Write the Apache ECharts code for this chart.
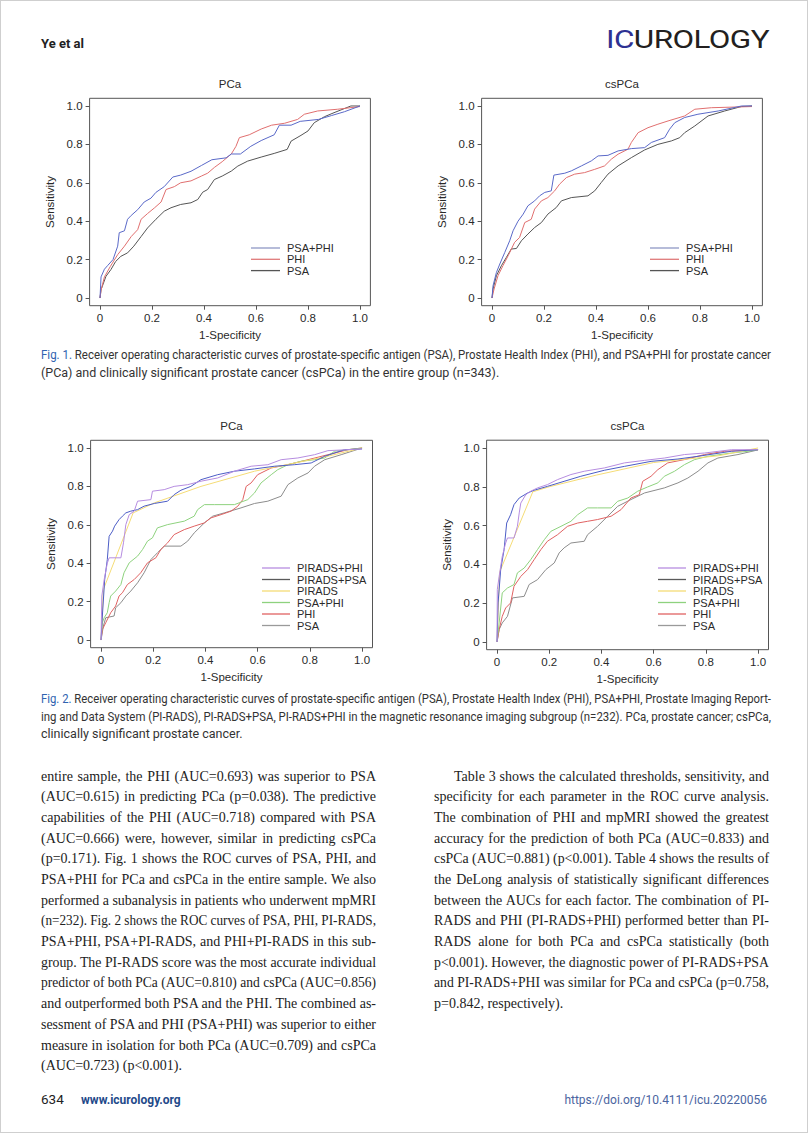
<!DOCTYPE html>
<html>
<head>
<meta charset="utf-8">
<script src="https://cdn.jsdelivr.net/npm/echarts@6/dist/echarts.min.js"></script>
<style>
  html,body{margin:0;padding:0;background:#fff;}
  #page{position:relative;width:808px;height:1133px;box-sizing:border-box;border:1px solid #cfcfcf;overflow:hidden;background:#fff;}
  #chart{position:absolute;left:0;top:0;width:808px;height:700px;}
  .abs{position:absolute;white-space:nowrap;}
  .hdr{font-family:'Liberation Sans Narrow','Roboto','Liberation Sans',sans-serif;font-weight:bold;font-size:13px;color:#222;}
  .logo{font-family:'Roboto','Lato',sans-serif;font-weight:400;font-size:26.5px;letter-spacing:-0.5px;line-height:28px;transform-origin:left center;}
  .cap{position:absolute;left:40px;width:730px;font-family:'Liberation Sans Narrow','Roboto','Liberation Sans',sans-serif;font-size:12.5px;color:#333;}
  .cap .ln{height:17.5px;line-height:17.5px;}
  .figlab{color:#2f63b0;}
  .col{position:absolute;width:335px;font-family:'Liberation Serif','DejaVu Serif',serif;font-size:14px;color:#222;}
  .col .ln{height:20.7px;line-height:20.7px;}
  .ln{white-space:nowrap;overflow:visible;}
  .ln span{white-space:nowrap;}
  .ln.jj{text-align:justify;text-align-last:justify;white-space:normal;}
  .foot{font-family:'Liberation Sans Narrow','Roboto','Liberation Sans',sans-serif;font-size:12px;}
</style>
</head>
<body>
<div id="page">
  <div class="abs hdr" style="left:40px;top:35px;">Ye et al</div>
  <div id="logo" class="abs logo" style="left:605px;top:24px;"><span style="color:#2e3192">IC</span><span style="color:#231f20">UROLOGY</span></div>

  <div id="chart"></div>

  <div class="cap" style="top:345px;">
    <div class="ln j" data-w="730"><span><span class="figlab">Fig. 1.</span> Receiver operating characteristic curves of prostate-specific antigen (PSA), Prostate Health Index (PHI), and PSA+PHI for prostate cancer</span></div>
    <div class="ln" data-w="0"><span>(PCa) and clinically significant prostate cancer (csPCa) in the entire group (n=343).</span></div>
  </div>

  <div class="cap" style="top:689px;">
    <div class="ln j" data-w="730"><span><span class="figlab">Fig. 2.</span> Receiver operating characteristic curves of prostate-specific antigen (PSA), Prostate Health Index (PHI), PSA+PHI, Prostate Imaging Report-</span></div>
    <div class="ln j" data-w="730"><span>ing and Data System (PI-RADS), PI-RADS+PSA, PI-RADS+PHI in the magnetic resonance imaging subgroup (n=232). PCa, prostate cancer; csPCa,</span></div>
    <div class="ln" data-w="0"><span>clinically significant prostate cancer.</span></div>
  </div>

  <div class="col" style="left:40px;top:765.6px;">
    <div class="ln j" data-w="335"><span>entire sample, the PHI (AUC=0.693) was superior to PSA</span></div>
    <div class="ln j" data-w="335"><span>(AUC=0.615) in predicting PCa (p=0.038). The predictive</span></div>
    <div class="ln j" data-w="335"><span>capabilities of the PHI (AUC=0.718) compared with PSA</span></div>
    <div class="ln j" data-w="335"><span>(AUC=0.666) were, however, similar in predicting csPCa</span></div>
    <div class="ln j" data-w="335"><span>(p=0.171). Fig. 1 shows the ROC curves of PSA, PHI, and</span></div>
    <div class="ln j" data-w="335"><span>PSA+PHI for PCa and csPCa in the entire sample. We also</span></div>
    <div class="ln j" data-w="335"><span>performed a subanalysis in patients who underwent mpMRI</span></div>
    <div class="ln j" data-w="335"><span>(n=232). Fig. 2 shows the ROC curves of PSA, PHI, PI-RADS,</span></div>
    <div class="ln j" data-w="335"><span>PSA+PHI, PSA+PI-RADS, and PHI+PI-RADS in this sub-</span></div>
    <div class="ln j" data-w="335"><span>group. The PI-RADS score was the most accurate individual</span></div>
    <div class="ln j" data-w="335"><span>predictor of both PCa (AUC=0.810) and csPCa (AUC=0.856)</span></div>
    <div class="ln j" data-w="335"><span>and outperformed both PSA and the PHI. The combined as-</span></div>
    <div class="ln j" data-w="335"><span>sessment of PSA and PHI (PSA+PHI) was superior to either</span></div>
    <div class="ln j" data-w="335"><span>measure in isolation for both PCa (AUC=0.709) and csPCa</span></div>
    <div class="ln" data-w="0"><span>(AUC=0.723) (p&lt;0.001).</span></div>
  </div>

  <div class="col" style="left:433px;top:765.6px;">
    <div class="ln j" data-w="315" style="margin-left:20px;"><span>Table 3 shows the calculated thresholds, sensitivity, and</span></div>
    <div class="ln j" data-w="335"><span>specificity for each parameter in the ROC curve analysis.</span></div>
    <div class="ln j" data-w="335"><span>The combination of PHI and mpMRI showed the greatest</span></div>
    <div class="ln j" data-w="335"><span>accuracy for the prediction of both PCa (AUC=0.833) and</span></div>
    <div class="ln j" data-w="335"><span>csPCa (AUC=0.881) (p&lt;0.001). Table 4 shows the results of</span></div>
    <div class="ln j" data-w="335"><span>the DeLong analysis of statistically significant differences</span></div>
    <div class="ln j" data-w="335"><span>between the AUCs for each factor. The combination of PI-</span></div>
    <div class="ln j" data-w="335"><span>RADS and PHI (PI-RADS+PHI) performed better than PI-</span></div>
    <div class="ln j" data-w="335"><span>RADS alone for both PCa and csPCa statistically (both</span></div>
    <div class="ln j" data-w="335"><span>p&lt;0.001). However, the diagnostic power of PI-RADS+PSA</span></div>
    <div class="ln j" data-w="335"><span>and PI-RADS+PHI was similar for PCa and csPCa (p=0.758,</span></div>
    <div class="ln" data-w="0"><span>p=0.842, respectively).</span></div>
  </div>

  <div class="abs foot" style="left:40px;top:1090px;font-size:13.5px;color:#222;">634</div>
  <div class="abs foot" style="left:80px;top:1092px;font-weight:bold;color:#1f4a8a;">www.icurology.org</div>
  <div class="abs foot" style="right:40px;top:1092px;color:#4a64a0;">https://doi.org/10.4111/icu.20220056</div>
</div>

<script>
// ---------- data ----------
const tickValues = [0, 0.2, 0.4, 0.6, 0.8, 1.0];
const panelTitles = ['PCa', 'csPCa', 'PCa', 'csPCa'];
const xAxisTitle = '1-Specificity';
const yAxisTitle = 'Sensitivity';
const fig1Names = ['PSA+PHI', 'PHI', 'PSA'];
const fig2Names = ['PIRADS+PHI', 'PIRADS+PSA', 'PIRADS', 'PSA+PHI', 'PHI', 'PSA'];

// Fig. 1, PCa
const fig1PcaPsaPhi = [[0,0],[0.004,0.11],[0.017,0.15],[0.03,0.17],[0.05,0.2],[0.068,0.27],[0.074,0.34],[0.094,0.35],[0.106,0.41],[0.12,0.43],[0.145,0.46],[0.17,0.5],[0.196,0.52],[0.215,0.55],[0.247,0.58],[0.28,0.63],[0.31,0.64],[0.35,0.66],[0.39,0.69],[0.43,0.72],[0.485,0.73],[0.505,0.75],[0.54,0.75],[0.58,0.79],[0.62,0.82],[0.67,0.85],[0.69,0.9],[0.735,0.9],[0.77,0.92],[0.84,0.93],[0.89,0.95],[0.94,0.97],[1,1]];
const fig1PcaPhi = [[0,0],[0.004,0.04],[0.017,0.11],[0.04,0.165],[0.068,0.226],[0.094,0.27],[0.12,0.32],[0.145,0.356],[0.158,0.41],[0.183,0.44],[0.21,0.47],[0.235,0.5],[0.254,0.565],[0.286,0.58],[0.31,0.6],[0.35,0.61],[0.39,0.635],[0.414,0.65],[0.44,0.68],[0.47,0.71],[0.505,0.75],[0.523,0.79],[0.536,0.835],[0.574,0.85],[0.62,0.88],[0.66,0.9],[0.71,0.91],[0.76,0.93],[0.786,0.957],[0.837,0.974],[0.914,0.983],[1,0.997]];
const fig1PcaPsa = [[0,0],[0.004,0.043],[0.023,0.113],[0.042,0.148],[0.06,0.19],[0.08,0.217],[0.106,0.235],[0.13,0.27],[0.158,0.32],[0.183,0.365],[0.215,0.41],[0.247,0.452],[0.273,0.47],[0.31,0.487],[0.35,0.496],[0.376,0.513],[0.395,0.551],[0.414,0.565],[0.44,0.617],[0.47,0.635],[0.505,0.661],[0.53,0.687],[0.568,0.713],[0.62,0.734],[0.67,0.753],[0.72,0.774],[0.735,0.817],[0.773,0.847],[0.8,0.87],[0.824,0.913],[0.863,0.944],[0.9,0.965],[0.965,1],[1,1]];

// Fig. 1, csPCa
const fig1CsPsaPhi = [[0,0],[0.004,0.064],[0.017,0.133],[0.03,0.177],[0.049,0.237],[0.068,0.298],[0.081,0.35],[0.1,0.4],[0.12,0.437],[0.138,0.48],[0.164,0.506],[0.183,0.532],[0.203,0.55],[0.228,0.558],[0.238,0.64],[0.28,0.65],[0.305,0.662],[0.344,0.688],[0.382,0.714],[0.408,0.74],[0.446,0.743],[0.485,0.766],[0.536,0.778],[0.587,0.783],[0.613,0.81],[0.664,0.835],[0.683,0.879],[0.703,0.913],[0.741,0.94],[0.792,0.957],[0.87,0.974],[0.96,1],[1,1]];
const fig1CsPhi = [[0,0],[0.008,0.047],[0.023,0.116],[0.042,0.168],[0.062,0.22],[0.087,0.29],[0.106,0.315],[0.126,0.393],[0.151,0.41],[0.164,0.463],[0.19,0.506],[0.215,0.523],[0.241,0.558],[0.26,0.593],[0.286,0.627],[0.318,0.645],[0.356,0.653],[0.395,0.67],[0.433,0.688],[0.459,0.723],[0.485,0.749],[0.523,0.775],[0.536,0.81],[0.562,0.861],[0.6,0.887],[0.638,0.905],[0.677,0.922],[0.741,0.948],[0.78,0.983],[0.844,0.991],[1,0.997]];
const fig1CsPsa = [[0,0],[0.004,0.047],[0.017,0.116],[0.036,0.168],[0.055,0.211],[0.074,0.255],[0.094,0.258],[0.113,0.298],[0.138,0.333],[0.164,0.367],[0.19,0.393],[0.215,0.437],[0.247,0.471],[0.267,0.506],[0.305,0.523],[0.369,0.532],[0.395,0.558],[0.42,0.601],[0.446,0.645],[0.485,0.688],[0.536,0.731],[0.587,0.771],[0.638,0.8],[0.69,0.818],[0.722,0.835],[0.741,0.861],[0.78,0.896],[0.831,0.948],[0.895,0.974],[0.959,0.997],[1,1]];

// Fig. 2, PCa
const fig2PcaPiradsPhi = [[0,0],[0.003,0.229],[0.012,0.315],[0.024,0.4],[0.031,0.428],[0.076,0.428],[0.086,0.506],[0.095,0.601],[0.108,0.653],[0.127,0.671],[0.14,0.723],[0.191,0.731],[0.197,0.775],[0.242,0.783],[0.28,0.8],[0.332,0.809],[0.383,0.827],[0.447,0.844],[0.511,0.879],[0.575,0.905],[0.639,0.913],[0.69,0.939],[0.754,0.948],[0.818,0.965],[0.869,0.986],[1,0.995]];
const fig2PcaPiradsPsa = [[0,0],[0.005,0.125],[0.014,0.315],[0.024,0.419],[0.031,0.54],[0.044,0.567],[0.052,0.593],[0.069,0.627],[0.082,0.645],[0.095,0.662],[0.114,0.671],[0.14,0.679],[0.165,0.697],[0.204,0.711],[0.255,0.723],[0.28,0.757],[0.306,0.78],[0.344,0.8],[0.383,0.835],[0.447,0.861],[0.511,0.879],[0.588,0.891],[0.665,0.905],[0.741,0.913],[0.805,0.922],[0.857,0.957],[0.933,0.991],[1,0.995]];
const fig2PcaPirads = [[0,0],[0.009,0.263],[0.123,0.662],[0.204,0.714],[0.383,0.8],[0.588,0.879],[0.869,0.957],[1,1]];
const fig2PcaPsaPhi = [[0,0],[0.005,0.09],[0.012,0.116],[0.024,0.142],[0.031,0.194],[0.037,0.229],[0.056,0.255],[0.076,0.289],[0.088,0.35],[0.108,0.402],[0.14,0.437],[0.159,0.471],[0.178,0.515],[0.197,0.532],[0.216,0.584],[0.255,0.601],[0.319,0.619],[0.357,0.645],[0.37,0.679],[0.396,0.705],[0.434,0.705],[0.511,0.705],[0.562,0.731],[0.588,0.766],[0.613,0.818],[0.652,0.861],[0.677,0.887],[0.716,0.913],[0.767,0.931],[0.818,0.939],[0.857,0.948],[0.895,0.983],[1,1]];
const fig2PcaPhi = [[0,0],[0.005,0.055],[0.018,0.09],[0.037,0.142],[0.056,0.177],[0.069,0.229],[0.082,0.246],[0.101,0.289],[0.127,0.315],[0.152,0.35],[0.178,0.402],[0.21,0.428],[0.229,0.471],[0.255,0.506],[0.28,0.549],[0.319,0.575],[0.357,0.593],[0.396,0.61],[0.421,0.636],[0.46,0.653],[0.498,0.671],[0.524,0.697],[0.543,0.731],[0.556,0.8],[0.575,0.818],[0.6,0.861],[0.652,0.896],[0.716,0.913],[0.793,0.939],[0.869,0.965],[0.946,0.991],[1,1]];
const fig2PcaPsa = [[0,0],[0.009,0.073],[0.018,0.116],[0.05,0.125],[0.056,0.168],[0.076,0.194],[0.095,0.229],[0.114,0.255],[0.14,0.298],[0.165,0.35],[0.191,0.419],[0.216,0.454],[0.242,0.489],[0.306,0.489],[0.332,0.515],[0.357,0.558],[0.396,0.61],[0.428,0.645],[0.472,0.662],[0.536,0.688],[0.588,0.711],[0.639,0.723],[0.69,0.749],[0.716,0.809],[0.754,0.844],[0.793,0.87],[0.818,0.905],[0.857,0.939],[0.92,0.965],[1,1]];

// Fig. 2, csPCa
const fig2CsPiradsPhi = [[0,0],[0.001,0.27],[0.008,0.338],[0.02,0.441],[0.033,0.51],[0.04,0.536],[0.065,0.536],[0.078,0.596],[0.085,0.665],[0.091,0.716],[0.11,0.759],[0.129,0.777],[0.155,0.794],[0.193,0.811],[0.232,0.837],[0.283,0.863],[0.334,0.88],[0.411,0.897],[0.488,0.923],[0.565,0.936],[0.641,0.948],[0.718,0.966],[0.795,0.974],[0.898,0.991],[1,0.991]];
const fig2CsPiradsPsa = [[0,0],[0.004,0.201],[0.014,0.373],[0.027,0.476],[0.037,0.613],[0.052,0.656],[0.065,0.708],[0.085,0.742],[0.117,0.768],[0.142,0.782],[0.193,0.802],[0.257,0.828],[0.321,0.854],[0.411,0.885],[0.488,0.905],[0.59,0.931],[0.693,0.943],[0.77,0.957],[0.898,0.983],[1,0.991]];
const fig2CsPirads = [[0,0],[0.01,0.36],[0.137,0.774],[0.2,0.8],[0.38,0.86],[0.6,0.925],[0.85,0.96],[1,1]];
const fig2CsPsaPhi = [[0,0],[0.008,0.098],[0.02,0.253],[0.04,0.278],[0.065,0.296],[0.078,0.356],[0.104,0.381],[0.129,0.424],[0.155,0.476],[0.181,0.527],[0.206,0.57],[0.245,0.596],[0.283,0.622],[0.309,0.656],[0.347,0.691],[0.385,0.691],[0.437,0.691],[0.462,0.725],[0.501,0.742],[0.539,0.777],[0.577,0.799],[0.616,0.82],[0.641,0.854],[0.68,0.88],[0.718,0.914],[0.757,0.94],[0.808,0.957],[0.898,0.974],[0.962,0.983],[1,0.991]];
const fig2CsPhi = [[0,0],[0.008,0.064],[0.02,0.132],[0.033,0.175],[0.052,0.201],[0.065,0.287],[0.091,0.338],[0.117,0.373],[0.142,0.424],[0.168,0.476],[0.193,0.519],[0.232,0.553],[0.27,0.596],[0.309,0.613],[0.347,0.622],[0.385,0.631],[0.437,0.648],[0.475,0.682],[0.513,0.742],[0.545,0.759],[0.558,0.828],[0.59,0.854],[0.616,0.888],[0.654,0.923],[0.718,0.94],[0.795,0.966],[0.872,0.983],[1,0.991]];
const fig2CsPsa = [[0,0],[0.008,0.064],[0.02,0.098],[0.04,0.132],[0.059,0.227],[0.104,0.235],[0.123,0.296],[0.155,0.321],[0.187,0.373],[0.219,0.407],[0.238,0.459],[0.257,0.485],[0.283,0.51],[0.334,0.519],[0.347,0.553],[0.385,0.596],[0.424,0.648],[0.462,0.699],[0.513,0.734],[0.565,0.768],[0.641,0.794],[0.693,0.82],[0.731,0.845],[0.77,0.88],[0.808,0.923],[0.846,0.948],[0.923,0.966],[1,0.99]];

// ---------- styles / layout ----------
const FONT = "'Liberation Sans', Arial, sans-serif";
const fig1Colors = ['#5a69c8', '#e06f6f', '#555555'];
const fig1LegendColors = ['#8f98c4', '#e07a7a', '#555555'];
const fig2Colors = ['#b68de0', '#4c5dc6', '#f5dc76', '#8ed27e', '#e06262', '#8c8c8c'];
const fig2LegendColors = ['#b68de0', '#5a5a5a', '#f5dc76', '#8ed27e', '#e06262', '#9a9a9a'];

const gridBoxes = [
  {left: 88.6, top: 97.3, width: 280.8, height: 207.4},
  {left: 480.6, top: 97.3, width: 280.8, height: 207.4},
  {left: 89.6, top: 439.3, width: 281.9, height: 207.4},
  {left: 485.6, top: 439.2, width: 281.9, height: 209.5}
];
const legendPos = [
  {left: 250, top: 241.5}, {left: 649, top: 241.5},
  {left: 261, top: 561.5}, {left: 657, top: 561.5}
];

const fmt = v => (Math.abs(v) < 1e-9 ? '0' : v.toFixed(1));
const panelData = [
  [fig1PcaPsaPhi, fig1PcaPhi, fig1PcaPsa],
  [fig1CsPsaPhi, fig1CsPhi, fig1CsPsa],
  [fig2PcaPiradsPhi, fig2PcaPiradsPsa, fig2PcaPirads, fig2PcaPsaPhi, fig2PcaPhi, fig2PcaPsa],
  [fig2CsPiradsPhi, fig2CsPiradsPsa, fig2CsPirads, fig2CsPsaPhi, fig2CsPhi, fig2CsPsa]
];

const grid = [], xAxis = [], yAxis = [], series = [], legend = [], graphic = [];
gridBoxes.forEach((g, i) => {
  grid.push(Object.assign({show: true, borderColor: '#555', borderWidth: 1, backgroundColor: 'transparent'}, g));
  const axisCommon = {
    type: 'value', gridIndex: i, min: -0.04, max: 1.04,
    axisLine: {show: false, onZero: false}, splitLine: {show: false},
    axisTick: {show: true, customValues: tickValues, length: 4, lineStyle: {color: '#555', width: 1}},
    axisLabel: {customValues: tickValues, formatter: fmt, fontSize: 11.5, color: '#2a2a2a', fontFamily: FONT},
    nameLocation: 'middle', nameMoveOverlap: false,
    nameTextStyle: {fontSize: 11.5, color: '#2a2a2a', fontFamily: FONT}
  };
  xAxis.push(Object.assign({}, axisCommon, {position: 'bottom', name: xAxisTitle, nameGap: 23, axisLabel: Object.assign({}, axisCommon.axisLabel, {margin: 6})}));
  yAxis.push(Object.assign({}, axisCommon, {position: 'left', name: yAxisTitle, nameGap: 34, axisLabel: Object.assign({}, axisCommon.axisLabel, {margin: 7})}));

  const names = i < 2 ? fig1Names : fig2Names;
  const colors = i < 2 ? fig1Colors : fig2Colors;
  const lcolors = i < 2 ? fig1LegendColors : fig2LegendColors;
  const legendData = [];
  names.forEach((n, k) => {
    const sname = n + '#' + i;
    series.push({
      name: sname, type: 'line', xAxisIndex: i, yAxisIndex: i,
      data: panelData[i][k], symbol: 'none', showSymbol: false,
      lineStyle: {color: colors[k], width: 1}, itemStyle: {color: colors[k]},
      z: 10 - k, animation: false, silent: true
    });
    legendData.push({name: sname, icon: 'rect', itemStyle: {color: lcolors[k]}});
  });
  legend.push({
    orient: 'vertical', left: legendPos[i].left, top: legendPos[i].top, padding: 0,
    itemWidth: i < 2 ? 29 : 28, itemHeight: 1.3, itemGap: i < 2 ? 0.3 : 0.5,
    data: legendData, selectedMode: false,
    formatter: name => name.split('#')[0],
    textStyle: {fontSize: 11, color: '#2a2a2a', fontFamily: FONT, lineHeight: 11, padding: [0, 0, 0, 2]}
  });
  graphic.push({
    type: 'text',
    x: g.left + g.width / 2, y: g.top - 14,
    style: {text: panelTitles[i], fill: '#2a2a2a', font: '11.5px ' + FONT, textAlign: 'center', textVerticalAlign: 'middle'}
  });
});

const chart = echarts.init(document.getElementById('chart'), null, {renderer: 'svg'});
chart.setOption({animation: false, grid, xAxis, yAxis, series, legend, graphic});

// ---------- text fitting ----------
function fitLines() {
  document.querySelectorAll('.ln').forEach(el => {
    const target = parseFloat(el.getAttribute('data-w') || '0');
    if (!target) return;
    const sp = el.firstElementChild;
    const w = sp.getBoundingClientRect().width;
    if (w > target) {
      sp.style.display = 'inline-block';
      sp.style.transformOrigin = 'left center';
      sp.style.transform = 'scaleX(' + (target / w) + ')';
    } else {
      el.style.width = target + 'px';
      el.classList.add('jj');
    }
  });
  const logo = document.getElementById('logo');
  const lw = logo.getBoundingClientRect().width;
  logo.style.transform = 'scaleX(' + (163 / lw) + ')';
}
fitLines();
</script>
</body>
</html>
